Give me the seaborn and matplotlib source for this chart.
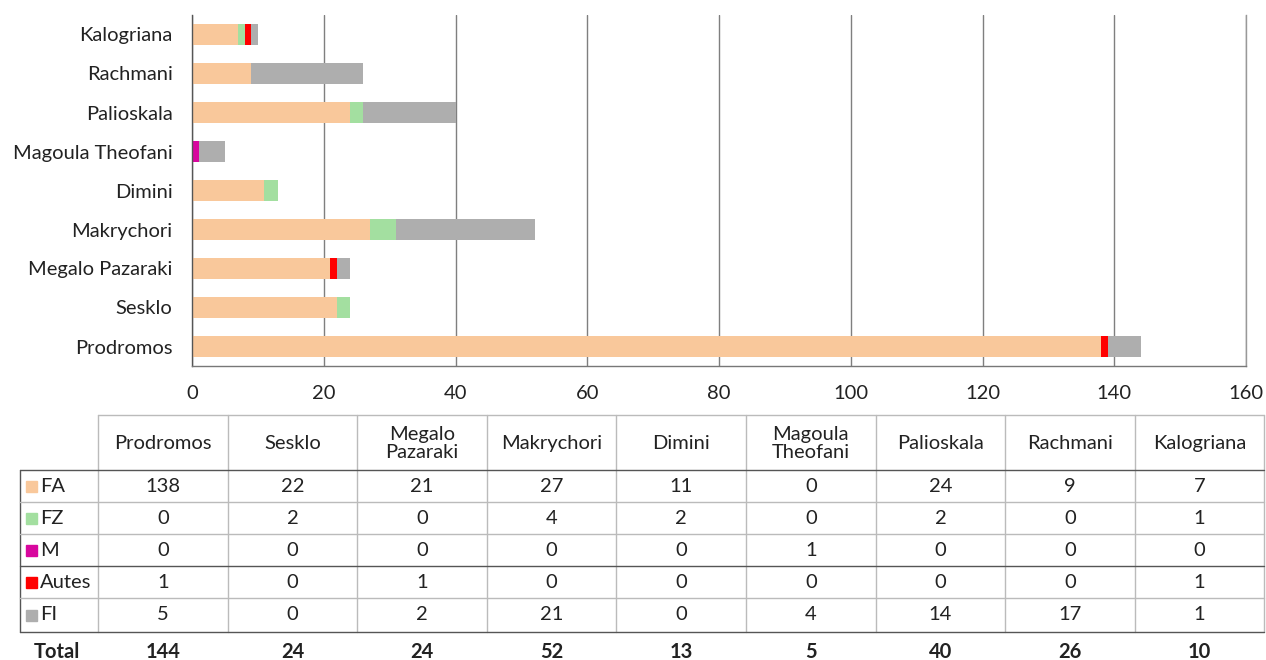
import matplotlib
matplotlib.use("Agg")
import matplotlib.pyplot as plt
import seaborn as sns
import pandas as pd
import numpy as np

sites = ["Prodromos", "Sesklo", "Megalo Pazaraki", "Makrychori", "Dimini",
         "Magoula Theofani", "Palioskala", "Rachmani", "Kalogriana"]
header_labels = ["Prodromos", "Sesklo", "Megalo\nPazaraki", "Makrychori", "Dimini",
                 "Magoula\nTheofani", "Palioskala", "Rachmani", "Kalogriana"]
series_names = ["FA", "FZ", "M", "Autes", "FI"]
FA = [138, 22, 21, 27, 11, 0, 24, 9, 7]
FZ = [0, 2, 0, 4, 2, 0, 2, 0, 1]
M = [0, 0, 0, 0, 0, 1, 0, 0, 0]
Autes = [1, 0, 1, 0, 0, 0, 0, 0, 1]
FI = [5, 0, 2, 21, 0, 4, 14, 17, 1]
colors = ["#F9C89B", "#A3DFA0", "#D8079E", "#FF0000", "#AEAEAE"]

series = [FA, FZ, M, Autes, FI]
totals = [sum(v) for v in zip(*series)]

sns.set_style("white")
plt.rcParams['font.family'] = ['Lato', 'DejaVu Sans']
FS = 14.5

W, H = 1266, 660
fig = plt.figure(figsize=(W / 100, H / 100), dpi=100)

def px_axes(x0, y0, x1, y1):
    return fig.add_axes([x0 / W, 1 - y1 / H, (x1 - x0) / W, (y1 - y0) / H])

ax = px_axes(192, 15, 1246, 366)
order = sites[::-1]
cum = np.zeros(len(sites))
cums = []
for s in series:
    cum = cum + np.array(s)
    cums.append(cum.copy())
df_rows = []
for name, c in zip(series_names, cums):
    for site, v in zip(sites, c):
        df_rows.append({"site": site, "series": name, "value": v})
df = pd.DataFrame(df_rows)
for name, col in reversed(list(zip(series_names, colors))):
    sub = df[df.series == name]
    sns.barplot(data=sub, y="site", x="value", order=order, color=col,
                orient="h", width=0.52, ax=ax, saturation=1, linewidth=0)

ax.set_xlim(0, 160)
ax.set_xticks(range(0, 161, 20))
ax.set_xlabel("")
ax.set_ylabel("")
ax.grid(axis="x", color="#7f7f7f", linewidth=1)
ax.set_axisbelow(True)
ax.spines["top"].set_visible(False)
ax.spines["right"].set_color("#999999")
ax.spines["bottom"].set_color("#777777")
ax.spines["left"].set_color("#555555")
for sp in ax.spines.values():
    sp.set_linewidth(1)
ax.tick_params(axis="both", length=0, labelsize=FS, colors="#222222")
ax.tick_params(axis="x", pad=14)
ax.tick_params(axis="y", pad=14)

# Table
tab = px_axes(0, 0, W, H)
tab.set_xlim(0, W)
tab.set_ylim(H, 0)
tab.axis("off")
col_edges = [20, 98] + [98 + 129.6 * (i + 1) for i in range(9)]
row_edges = [415, 470, 502, 534, 566, 598, 632]
light = "#bbbbbb"
dark = "#555555"
for x in col_edges[1:]:
    tab.plot([x, x], [row_edges[0], row_edges[-1]], color=light, lw=1)
tab.plot([20, 20], [row_edges[1], row_edges[-1]], color=dark, lw=1)
tab.plot([col_edges[1], col_edges[-1]], [row_edges[0], row_edges[0]], color=light, lw=1)
for i, y in enumerate(row_edges[1:]):
    c = dark if i in (0, 3, 5) else light
    tab.plot([20, col_edges[-1]], [y, y], color=c, lw=1)
for j, lab in enumerate(header_labels):
    cx = (col_edges[j + 1] + col_edges[j + 2]) / 2
    tab.text(cx, (row_edges[0] + row_edges[1]) / 2 + 1, lab, ha="center", va="center",
             fontsize=FS, color="#222222", linespacing=1.05)
for i, (name, vals, col) in enumerate(zip(series_names, series, colors)):
    cy = (row_edges[i + 1] + row_edges[i + 2]) / 2
    tab.add_patch(plt.Rectangle((26, cy - 5), 11, 11, color=col))
    tab.text(40, cy, name, ha="left", va="center", fontsize=FS, color="#222222")
    for j, v in enumerate(vals):
        cx = (col_edges[j + 1] + col_edges[j + 2]) / 2
        tab.text(cx, cy, str(v), ha="center", va="center", fontsize=FS, color="#222222")
tab.text(34, 652, "Total", ha="left", va="center", fontsize=FS, fontweight="bold", color="#222222")
for j, v in enumerate(totals):
    cx = (col_edges[j + 1] + col_edges[j + 2]) / 2
    tab.text(cx, 652, str(v), ha="center", va="center", fontsize=FS, fontweight="bold", color="#222222")

fig.savefig("out.png", dpi=100)
